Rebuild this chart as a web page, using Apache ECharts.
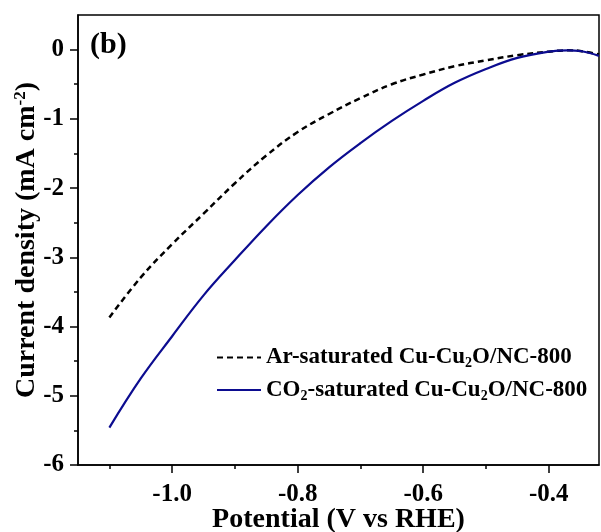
<!DOCTYPE html>
<html>
<head>
<meta charset="utf-8">
<script src="https://cdn.jsdelivr.net/npm/echarts@6/dist/echarts.min.js"></script>
<style>
  html, body { margin: 0; padding: 0; background: #fff; }
  #chart { width: 601px; height: 532px; }
</style>
</head>
<body>
<div id="chart"></div>
<script>
// potential (V vs RHE)
const potential = [-1.1, -1.05, -1.0, -0.95, -0.9, -0.85, -0.8, -0.75, -0.7, -0.65, -0.6, -0.55, -0.5, -0.45, -0.4, -0.37, -0.35, -0.32];
// current density (mA cm-2)
const arSaturated = [-3.87, -3.29, -2.81, -2.37, -1.93, -1.53, -1.19, -0.93, -0.70, -0.50, -0.36, -0.24, -0.155, -0.08, -0.03, -0.01, -0.02, -0.07];
const co2Saturated = [-5.46, -4.75, -4.14, -3.55, -3.04, -2.55, -2.10, -1.70, -1.35, -1.03, -0.74, -0.48, -0.28, -0.12, -0.03, -0.01, -0.02, -0.09];

const xMajorTicks = [-1.0, -0.8, -0.6, -0.4];
const xMinorTicks = [-1.1, -0.9, -0.7, -0.5];
const yMajorTicks = [0, -1, -2, -3, -4, -5, -6];
const yMinorTicks = [-0.5, -1.5, -2.5, -3.5, -4.5, -5.5];

const FONT = "'Liberation Serif', 'Times New Roman', serif";

const chart = echarts.init(document.getElementById("chart"));

const pair = (xs, ys) => xs.map((x, i) => [x, ys[i]]);

chart.setOption({
  backgroundColor: "#fff",
  animation: false,
  grid: {
    left: 78,
    right: 2,
    top: 15,
    bottom: 67,
    show: true,
    borderColor: "#000",
    borderWidth: 1.5,
    outerBoundsMode: "none",
  },
  graphic: [
    {
      type: "text",
      left: 90,
      top: 30,
      style: { text: "(b)", font: "bold 30px " + FONT, fill: "#000" },
    },
  ],
  legend: {
    orient: "vertical",
    left: 216,
    top: 346,
    padding: 0,
    itemWidth: 44,
    itemHeight: 14,
    itemGap: 8,
    data: ["Ar", "CO2"],
    itemStyle: { opacity: 0 },
    formatter: (name) =>
      name === "Ar"
        ? "{a|Ar-saturated Cu-Cu}{s|2}{a|O/NC-800}"
        : "{a|CO}{s|2}{a|-saturated Cu-Cu}{s|2}{a|O/NC-800}",
    textStyle: {
      rich: {
        a: { fontFamily: FONT, fontWeight: "bold", fontSize: 23, color: "#000", lineHeight: 26, verticalAlign: "middle" },
        s: { fontFamily: FONT, fontWeight: "bold", fontSize: 14, color: "#000", lineHeight: 14, verticalAlign: "bottom" },
      },
    },
  },
  xAxis: [
    {
      type: "value",
      min: -1.15,
      max: -0.32,
      name: "Potential (V vs RHE)",
      nameLocation: "middle",
      nameGap: 41,
      nameMoveOverlap: false,
      nameTextStyle: { fontFamily: FONT, fontWeight: "bold", fontSize: 28, color: "#000" },
      axisLine: { show: true, onZero: false, lineStyle: { color: "#000", width: 1.5 } },
      axisTick: { show: true, inside: false, length: 8, customValues: xMajorTicks, lineStyle: { color: "#000", width: 1.5 } },
      axisLabel: {
        customValues: xMajorTicks,
        margin: 17,
        fontFamily: FONT,
        fontWeight: "bold",
        fontSize: 25,
        color: "#000",
        formatter: (v) => v.toFixed(1),
      },
      splitLine: { show: false },
    },
    {
      type: "value",
      min: -1.15,
      max: -0.32,
      position: "bottom",
      axisLine: { show: false, onZero: false },
      axisTick: { show: true, inside: false, length: 4, customValues: xMinorTicks, lineStyle: { color: "#000", width: 1.5 } },
      axisLabel: { show: false },
      splitLine: { show: false },
    },
  ],
  yAxis: [
    {
      type: "value",
      min: -6,
      max: 0.5,
      name: "{a|Current density (mA cm}{p|-2}{a|)}",
      nameLocation: "middle",
      nameGap: 36,
      nameMoveOverlap: false,
      nameTextStyle: {
        rich: {
          a: { fontFamily: FONT, fontWeight: "bold", fontSize: 28, color: "#000", lineHeight: 30, verticalAlign: "middle" },
          p: { fontFamily: FONT, fontWeight: "bold", fontSize: 17, color: "#000", lineHeight: 17, verticalAlign: "top" },
        },
      },
      axisLine: { show: true, onZero: false, lineStyle: { color: "#000", width: 1.5 } },
      axisTick: { show: true, inside: false, length: 8, customValues: yMajorTicks, lineStyle: { color: "#000", width: 1.5 } },
      axisLabel: {
        customValues: yMajorTicks,
        margin: 14,
        fontFamily: FONT,
        fontWeight: "bold",
        fontSize: 25,
        color: "#000",
      },
      splitLine: { show: false },
    },
    {
      type: "value",
      min: -6,
      max: 0.5,
      position: "left",
      axisLine: { show: false, onZero: false },
      axisTick: { show: true, inside: false, length: 4, customValues: yMinorTicks, lineStyle: { color: "#000", width: 1.5 } },
      axisLabel: { show: false },
      splitLine: { show: false },
    },
  ],
  series: [
    {
      name: "Ar",
      type: "line",
      smooth: 0.4,
      symbol: "none",
      data: pair(potential, arSaturated),
      lineStyle: { color: "#000", width: 2.5, type: [6, 4] },
      itemStyle: { color: "#000" },
    },
    {
      name: "CO2",
      type: "line",
      smooth: 0.4,
      symbol: "none",
      data: pair(potential, co2Saturated),
      lineStyle: { color: "#0c0c90", width: 2.2 },
      itemStyle: { color: "#0c0c90" },
    },
  ],
});
</script>
</body>
</html>
